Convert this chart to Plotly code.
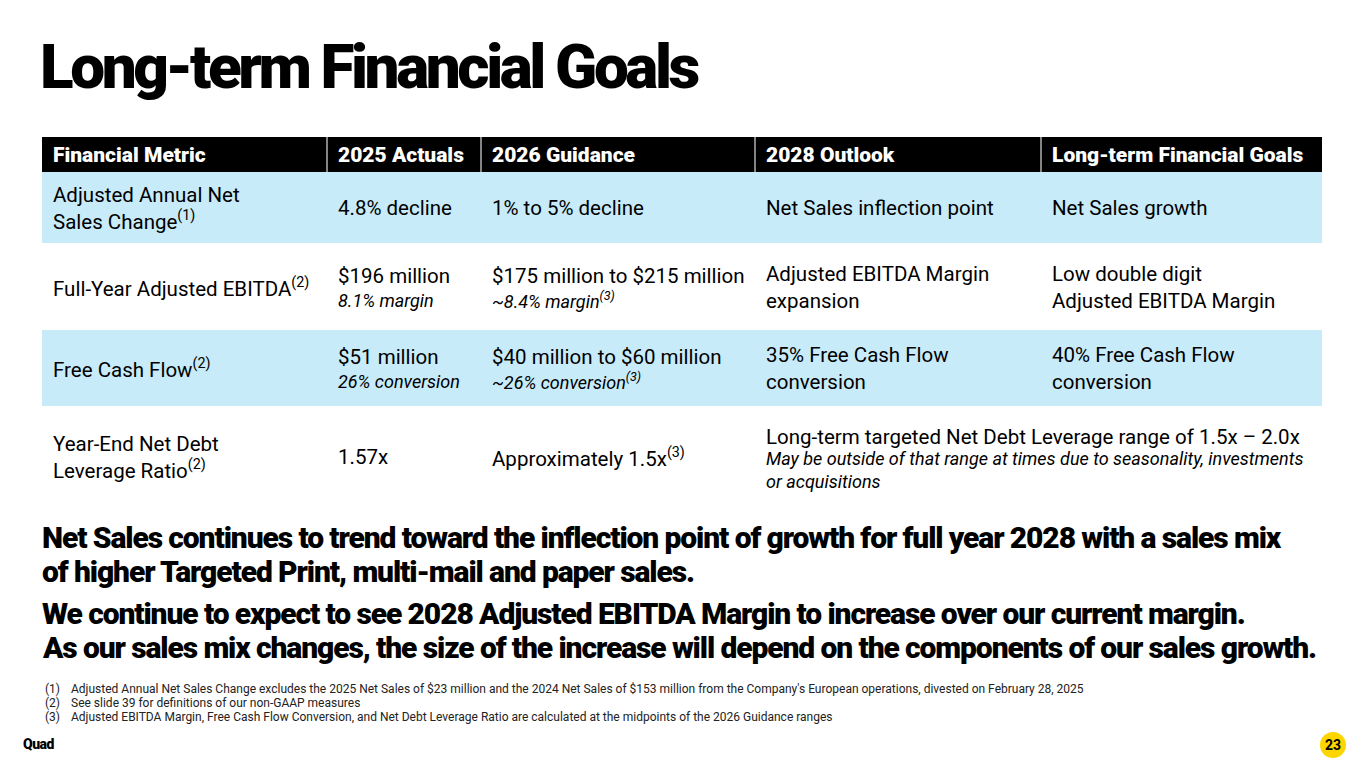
import plotly.graph_objects as go

# slide content
title = "Long-term Financial Goals"
headers = ["Financial Metric", "2025 Actuals", "2026 Guidance", "2028 Outlook", "Long-term Financial Goals"]

metrics = ["Adjusted Annual Net<br>Sales Change<sup>(1)</sup>",
           "Full-Year Adjusted EBITDA<sup>(2)</sup>",
           "Free Cash Flow<sup>(2)</sup>",
           "Year-End Net Debt<br>Leverage Ratio<sup>(2)</sup>"]
actuals = ["4.8% decline", "$196 million", "$51 million", "1.57x"]
actuals_sub = ["", "8.1% margin", "26% conversion", ""]
guidance = ["1% to 5% decline", "$175 million to $215 million", "$40 million to $60 million",
            "Approximately 1.5x<sup>(3)</sup>"]
guidance_sub = ["", "~8.4% margin<sup>(3)</sup>", "~26% conversion<sup>(3)</sup>", ""]
outlook = ["Net Sales inflection point", "Adjusted EBITDA Margin<br>expansion",
           "35% Free Cash Flow<br>conversion", None]
goals = ["Net Sales growth", "Low double digit<br>Adjusted EBITDA Margin",
         "40% Free Cash Flow<br>conversion", None]
leverage_goal = "Long-term targeted Net Debt Leverage range of 1.5x – 2.0x"
leverage_goal_sub = "May be outside of that range at times due to seasonality, investments<br>or acquisitions"

takeaways = ["Net Sales continues to trend toward the inflection point of growth for full year 2028 with a sales mix",
             "of higher Targeted Print, multi-mail and paper sales.",
             "We continue to expect to see 2028 Adjusted EBITDA Margin to increase over our current margin.",
             "As our sales mix changes, the size of the increase will depend on the components of our sales growth."]

footnotes = ["Adjusted Annual Net Sales Change excludes the 2025 Net Sales of $23 million and the 2024 Net Sales of $153 million from the Company's European operations, divested on February 28, 2025",
             "See slide 39 for definitions of our non-GAAP measures",
             "Adjusted EBITDA Margin, Free Cash Flow Conversion, and Net Debt Leverage Ratio are calculated at the midpoints of the 2026 Guidance ranges"]
brand = "Quad"
page_no = "23"

# layout (pixel space of the slide)
W, H = 1365, 768
col_edges = [42, 327, 481, 755, 1041, 1322]
row_edges = [137, 172, 243, 330, 406, 495]
text_mid = [208, 287, 368, 457]
pad = 9
BLUE = "#c8ebfa"
FONT = "Roboto, Liberation Sans, sans-serif"

fig = go.Figure()
shapes = []
ann = []


def text(x, y, s, size, color="black", weight="normal", style="normal", xanchor="left", spacing=None):
    if spacing is not None:
        s = f'<span style="letter-spacing:{spacing}px;font-size:{size}px">{s}</span>'
    ann.append(dict(x=x, y=y, text=s, showarrow=False, xanchor=xanchor, yanchor="middle", align="left",
                    font=dict(size=size, family=FONT, color=color, weight=weight, style=style)))


# title
text(38, 66, title, 62, weight=900, spacing=-3.4)

# header band
shapes.append(dict(type="rect", x0=col_edges[0], x1=col_edges[-1], y0=row_edges[0], y1=row_edges[1],
                   fillcolor="black", line_width=0, layer="below"))
for xe in col_edges[1:-1]:
    shapes.append(dict(type="line", x0=xe, x1=xe, y0=row_edges[0], y1=row_edges[1],
                       line=dict(color="#b0b0b0", width=1.5)))
for i, h in enumerate(headers):
    text(col_edges[i] + pad, (row_edges[0] + row_edges[1]) / 2, h, 21, color="white", weight=900)

# body rows
for r in range(len(metrics)):
    if r % 2 == 0:
        shapes.append(dict(type="rect", x0=col_edges[0], x1=col_edges[-1], y0=row_edges[r + 1],
                           y1=row_edges[r + 2], fillcolor=BLUE, line_width=0, layer="below"))
    ym = text_mid[r]
    text(col_edges[0] + pad, ym, metrics[r], 20.5)
    for c, (main, sub) in enumerate([(actuals[r], actuals_sub[r]), (guidance[r], guidance_sub[r])]):
        x = col_edges[c + 1] + pad
        if sub:
            text(x, ym - 11, main, 20.5)
            text(x, ym + 13, sub, 18, style="italic")
        else:
            text(x, ym, main, 20.5)
    if outlook[r] is not None:
        text(col_edges[3] + pad, ym, outlook[r], 20.5)
        text(col_edges[4] + pad, ym, goals[r], 20.5)
    else:
        text(col_edges[3] + pad, ym - 20, leverage_goal, 20.5)
        text(col_edges[3] + pad, ym + 13, leverage_goal_sub, 18, style="italic")

# takeaways
for y, line in zip([537, 571, 613, 647], takeaways):
    text(40, y, line, 30, weight=900, spacing=-1.1)

# footnotes
for i, fn in enumerate(footnotes):
    y = 689 + i * 14
    text(43, y, f"({i + 1})", 12, color="#222")
    text(69, y, fn, 12, color="#222")

# footer
text(21, 744, brand, 14, weight=900, spacing=-0.5)
shapes.append(dict(type="circle", x0=1320, x1=1346, y0=732, y1=758, fillcolor="#fdd600", line_width=0))
text(1333, 745, page_no, 14, weight="bold", xanchor="center")

fig.update_layout(width=W, height=H, margin=dict(l=0, r=0, t=0, b=0),
                  paper_bgcolor="white", plot_bgcolor="white",
                  xaxis=dict(range=[0, W], visible=False, fixedrange=True),
                  yaxis=dict(range=[H, 0], visible=False, fixedrange=True),
                  shapes=shapes, annotations=ann, showlegend=False)

fig.write_html("out.html", config={"displayModeBar": False},
               post_script="document.body.style.margin='0';")
